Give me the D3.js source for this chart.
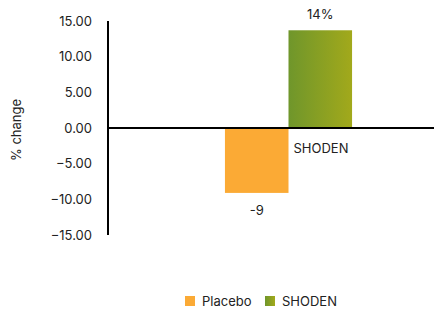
<!DOCTYPE html>
<html><head><meta charset="utf-8">
<script src="https://cdn.jsdelivr.net/npm/d3@7"></script>
<style>body{margin:0;background:#fff}svg{display:block;font-family:Inter,"DejaVu Sans",sans-serif}</style>
</head><body><svg id="c" width="434" height="312"></svg>
<script>
const categories = ["SHODEN"];
const seriesNames = ["Placebo", "SHODEN"];
const seriesValues = [-9.1, 13.7];
const valueLabels = ["-9", "14%"];
const yTicks = [-15, -10, -5, 0, 5, 10, 15];

const svg = d3.select("#c");
const y = d3.scaleLinear().domain([-15, 15]).range([235, 21]);
const x0 = d3.scaleBand().domain(categories).range([108, 469]).paddingInner(0).paddingOuter(0.92);
const x1 = d3.scaleBand().domain(seriesNames).range([0, x0.bandwidth()]);

const defs = svg.append("defs");
const g = defs.append("linearGradient").attr("id","grn").attr("x1","0").attr("x2","1").attr("y1","0").attr("y2","0");
g.append("stop").attr("offset","0").attr("stop-color","#6f962b");
g.append("stop").attr("offset","1").attr("stop-color","#a2a91b");
const fills = {"Placebo":"#fbaa35","SHODEN":"url(#grn)"};

// y tick labels
const yAxis = d3.axisLeft(y).tickValues(yTicks).tickFormat(d3.format(".2f")).tickSize(0).tickPadding(16);
const ya = svg.append("g").attr("transform","translate(108,0)").call(yAxis);
ya.select(".domain").remove();
ya.selectAll("text").attr("font-size",13).attr("fill","#222").attr("font-family","Inter,sans-serif");

// bars
const data = seriesNames.map((s,i)=>({s, v: seriesValues[i], lab: valueLabels[i]}));
const cat = categories[0];
svg.selectAll("rect.bar").data(data).enter().append("rect")
  .attr("x", d => x0(cat) + x1(d.s))
  .attr("width", x1.bandwidth())
  .attr("y", d => y(Math.max(0, d.v)))
  .attr("height", d => Math.abs(y(d.v) - y(0)))
  .attr("fill", d => fills[d.s]);

// value labels
svg.selectAll("text.val").data(data).enter().append("text")
  .attr("x", d => x0(cat) + x1(d.s) + x1.bandwidth()/2)
  .attr("y", d => d.v >= 0 ? y(d.v) - 11 : y(d.v) + 22)
  .attr("text-anchor","middle").attr("font-size",13).attr("fill","#222")
  .text(d => d.lab);

// axes lines
svg.append("line").attr("x1",108).attr("x2",108).attr("y1",y(15)).attr("y2",y(-15)).attr("stroke","#000").attr("stroke-width",2);
svg.append("line").attr("x1",108).attr("x2",434).attr("y1",y(0)).attr("y2",y(0)).attr("stroke","#000").attr("stroke-width",2);

// category label
svg.append("text").attr("x", x0(cat) + x0.bandwidth()/2 + 5).attr("y", y(0) + 25)
  .attr("font-size",13).attr("fill","#222").text(cat);

// y title
svg.append("text").attr("transform","translate(21,130) rotate(-90)").attr("text-anchor","middle")
  .attr("font-size",13).attr("fill","#222").text("% change");

// legend
const legX = [185, 265];
const lg = svg.selectAll("g.leg").data(seriesNames).enter().append("g").attr("transform",(d,i)=>`translate(${legX[i]},296)`);
lg.append("rect").attr("width",10).attr("height",10).attr("fill", d => fills[d]);
lg.append("text").attr("x",17).attr("y",9.5).attr("font-size",13).attr("fill","#222").text(d=>d);
</script></body></html>
